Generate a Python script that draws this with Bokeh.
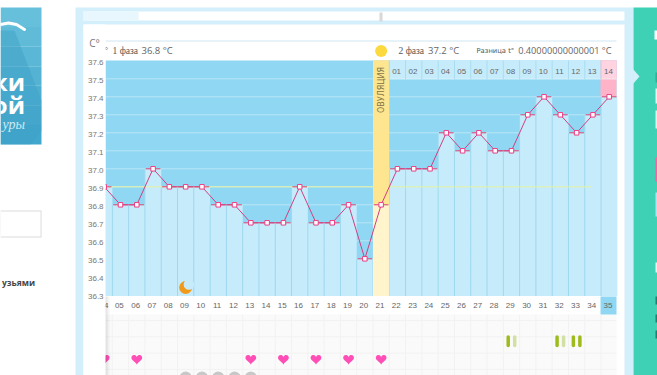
from bokeh.plotting import figure
from bokeh.models import Range1d
from bokeh.core.properties import value
from bokeh.embed import file_html
from bokeh.resources import INLINE
import numpy as np

# ---- data
days = list(range(4, 36))
temps = [36.9, 36.8, 36.8, 37.0, 36.9, 36.9, 36.9, 36.8, 36.8, 36.7, 36.7, 36.7, 36.9, 36.7, 36.7, 36.8,
         36.5, 36.8, 37.0, 37.0, 37.0, 37.2, 37.1, 37.2, 37.1, 37.1, 37.3, 37.4, 37.3, 37.2, 37.3, 37.4]
ytick_labels = ["37.6", "37.5", "37.4", "37.3", "37.2", "37.1", "37.0", "36.9", "36.8", "36.7", "36.6", "36.5", "36.4", "36.3"]
day_labels = ["04", "05", "06", "07", "08", "09", "10", "11", "12", "13", "14", "15", "16", "17", "18", "19", "20",
              "21", "22", "23", "24", "25", "26", "27", "28", "29", "30", "31", "32", "33", "34", "35"]
phase2_labels = ["01", "02", "03", "04", "05", "06", "07", "08", "09", "10", "11", "12", "13", "14"]
heart_days = [4, 6, 13, 15, 17, 19, 21]
grey_days = [9, 10, 11, 12, 13]
moon_day = 9
ovulation_day = 21
mean_temp = 36.9
mucus_days = [29, 29, 32, 32, 33, 33]
mucus_side = [-1, 1, -1, 1, -1, 1]
mucus_color = ["#9dbc1c", "#d2e0a4", "#9dbc1c", "#d2e0a4", "#9dbc1c", "#9dbc1c"]

# ---- page pixel <-> data conversion (used for the chrome only)
PX_DAY = 16.29
PX_DEG = 180.0
W, H = 657, 375


def dx(px):
    return 5 + (px - 120) / PX_DAY


def dy(py):
    return 36.5 + (258.3 - py) / PX_DEG


p = figure(width=W, height=H, output_backend="svg", toolbar_location=None,
           x_range=Range1d(dx(0), dx(W)), y_range=Range1d(dy(H), dy(0)),
           x_axis_location=None, y_axis_location=None, min_border=0,
           outline_line_color=None, background_fill_color="white")
p.grid.visible = False


def box(l, t, r, b, color, level="underlay"):
    p.quad(left=dx(l), right=dx(r), top=dy(t), bottom=dy(b), fill_color=color, line_color=None, level=level)


def label(x, y, txt, size=9, color="#777777", font="Liberation Sans", align="center", style="normal",
          angle=0, level="overlay"):
    p.text(x=[x], y=[y], text=[txt], text_font=value(font), text_font_size=f"{size}px", text_color=color,
           text_align=align, text_baseline="middle", text_font_style=style, angle=angle, level=level)


# ---- page chrome
for i, c in enumerate(["#66bfdb", "#60bbd8", "#5ab7d6", "#54b3d3", "#4eafd1", "#48abce", "#42a7cc"]):
    box(0, 7 + i * 137 / 7, 41, 7 + (i + 1) * 137 / 7, c)
p.patch(x=[dx(0), dx(14), dx(41), dx(41), dx(30), dx(0)], y=[dy(30), dy(30), dy(100), dy(130), dy(144), dy(144)],
        fill_color="#3f9fc6", fill_alpha=0.45, line_color=None, level="underlay")
p.line(x=[dx(0), dx(8), dx(16), dx(24)], y=[dy(24), dy(22.5), dy(24), dy(29)], line_color="white", line_width=3,
       line_cap="round", level="underlay")
label(dx(24.5), dy(81), "ки", 24, "white", "Open Sans", "right", "bold", level="underlay")
label(dx(24.5), dy(104), "ой", 24, "white", "Open Sans", "right", "bold", level="underlay")
label(dx(24.5), dy(124), "уры", 14, "#cdeaf4", "Liberation Serif", "right", "italic", level="underlay")
box(0, 210, 41, 237, "#dcdcdc")
box(0, 211, 40, 236, "white")
label(dx(34.5), dy(281.5), "узьями", 8.5, "#444444", "Open Sans", "right", "bold", level="underlay")

box(75, 7, 633, 375, "#d3effb")
box(83, 11, 624, 20, "#ffffff")
box(83, 11, 138, 20, "#e8f7fd")
box(379, 12, 382, 21, "#d8d8d8")
box(83, 24, 624, 375, "white")
box(633, 7, 657, 375, "#3fd1b6")
p.patch(x=[dx(632), dx(639), dx(632)], y=[dy(68), dy(76), dy(84)], fill_color="#d3effb", line_color=None, level="underlay")
box(654, 30, 657, 39, "white")
box(655, 72, 657, 82, "#2fae98")
box(655, 88, 657, 103, "#e4f8f3")
box(655, 110, 657, 128, "#d8f5ef")
box(655, 157, 657, 181, "#ff5fa8")
box(655, 192, 657, 216, "#aee4f5")
box(655, 262, 657, 272, "#e4f8f3")
box(655, 296, 657, 304, "#1f7f70")
box(655, 314, 657, 322, "#1f7f70")
box(655, 330, 657, 338, "#1f7f70")

# ---- plot background
box(105, 40, 616, 41, "#cfe8f4")
box(105, 60, 616, 295.5, "#8fd7f3")
box(388.5, 60, 616, 79, "#c6ecfb")
box(600, 60, 616, 96.5, "#ffb3c9")
box(600, 60, 616, 79, "#ffd3df")
box(105, 296, 616, 314, "#ffffff")
box(105, 314, 616, 375, "#fafafa")
box(600, 296, 616, 314, "#8fd7f3")

# lower grid
for px in np.arange(111.85, 616, 16.29):
    p.line(x=[dx(px), dx(px)], y=[dy(314), dy(375)], line_color="#f2f2f2", line_width=1, level="underlay")
for py in np.arange(320, 375, 16.29):
    p.line(x=[dx(105), dx(616)], y=[dy(py), dy(py)], line_color="#f2f2f2", line_width=1, level="underlay")

# dotted temperature grid
for t in ytick_labels[1:]:
    p.line(x=[dx(105), dx(616)], y=[float(t), float(t)], line_color="#e4f6fd", line_width=1,
           line_dash="1 1", level="underlay")

# ---- bars
bottoms = [float(ytick_labels[-1]) - 0.007] * len(days)
bar_colors = ["#c6ecfb"] * len(days)
p.vbar(x=days, width=1, top=temps, bottom=bottoms, fill_color=bar_colors, line_color=None)
p.segment(x0=[d - 0.5 for d in days], x1=[d - 0.5 for d in days], y0=bottoms, y1=temps, line_color="#a0d8ee", line_width=1)
for_i = days.index(ovulation_day)
# ovulation column
p.quad(left=[ovulation_day - 0.5], right=[ovulation_day + 0.5], top=[float(ytick_labels[0]) + 0.003],
       bottom=[temps[for_i]], fill_color="#fee590", line_color=None)
p.quad(left=[ovulation_day - 0.5], right=[ovulation_day + 0.5], top=[temps[for_i]],
       bottom=[bottoms[0]], fill_color="#fff4cc", line_color=None)
# separators in the header row of phase 2
for d in days[days.index(22):]:
    p.line(x=[d - 0.5, d - 0.5], y=[dy(60), dy(79)], line_color="#a8dcf0", line_width=1)

# mean line
p.line(x=[dx(105), ovulation_day - 0.5], y=[mean_temp, mean_temp], line_color="#e6f2a2", line_width=1)
p.line(x=[ovulation_day + 0.5, dx(591)], y=[mean_temp, mean_temp], line_color="#e6f2a2", line_width=1)

# top strokes, connecting line, markers
p.segment(x0=[d - 0.45 for d in days], x1=[d + 0.45 for d in days], y0=temps, y1=temps, line_color="#d8406e", line_width=1)
p.line(x=days, y=temps, line_color="#cf4080", line_width=1)
p.scatter(x=days, y=temps, marker="square", size=4.5, fill_color="white", line_color="#ec3f86", line_width=1)

# moon
p.scatter(x=[moon_day], y=[dy(287)], marker="circle", size=13, fill_color="#f09a1c", line_color=None)
p.scatter(x=[moon_day + 0.2], y=[dy(284)], marker="circle", size=10.5, fill_color="#c6ecfb", line_color=None)

# texts that the white column hides in part
label(dx(103.5), dy(305), day_labels[0], 8, "#666666", "Liberation Sans", level="glyph")
label(dx(104), dy(49), "°", 9, "#555555", "Liberation Serif", "left", level="glyph")

# ---- white column with the y labels
box(83, 24, 105, 375, "white", level="overlay")
box(105, 296, 107, 375, "#00000018", level="overlay")
box(107, 296, 109, 375, "#0000000a", level="overlay")

# header band
label(dx(112), dy(50), "1 фаза", 9.5, "#555555", "Liberation Serif", "left")
label(dx(141), dy(50), "36.8 °C", 9.5, "#666666", "Open Sans", "left")
label(dx(398), dy(50), "2 фаза", 9.5, "#555555", "Liberation Serif", "left")
label(dx(427.5), dy(50), "37.2 °C", 9.5, "#666666", "Open Sans", "left")
label(dx(476), dy(50), "Разница t°", 6.8, "#555555", "DejaVu Sans", "left")
label(dx(517.7), dy(50), "0.40000000000001 °C", 9.2, "#666666", "Open Sans", "left")
p.scatter(x=[ovulation_day], y=[dy(50.5)], marker="circle", size=12, fill_color="#fbd93f", line_color=None, level="overlay")
label(dx(380.5), dy(89.5), "ОВУЛЯЦИЯ", 8, "#7d7548", "DejaVu Sans", angle=np.pi / 2)
label(dx(94), dy(42), "C°", 10, "#777777", "Open Sans")

for t in ytick_labels:
    label(dx(87.5), float(t) - 1.3 / PX_DEG, t, 8, "#777777", "Liberation Sans", "left")

for d, s in zip(days[1:], day_labels[1:]):
    label(d - 0.07, dy(305), s, 8, "#666666", "Liberation Sans")
for d, s in zip(days[days.index(22):], phase2_labels):
    label(d - 0.05, dy(71), s, 8, "#666666", "Liberation Sans")

# ---- lower rows
t = np.linspace(0, 2 * np.pi, 40)
hx = 16 * np.sin(t) ** 3 / 16 * 5.4
hy = (13 * np.cos(t) - 5 * np.cos(2 * t) - 2 * np.cos(3 * t) - np.cos(4 * t)) / 16 * 5.4
p.patches(xs=[(d + hx / PX_DAY).tolist() for d in heart_days],
          ys=[(dy(358.5) + hy / PX_DEG).tolist() for d in heart_days],
          fill_color="#ff4fb6", line_color=None)
p.segment(x0=[d + s * 0.2 for d, s in zip(mucus_days, mucus_side)], x1=[d + s * 0.2 for d, s in zip(mucus_days, mucus_side)],
          y0=[dy(336.5)] * len(mucus_days), y1=[dy(345)] * len(mucus_days),
          line_color=mucus_color, line_width=3.5, line_cap="round")
p.scatter(x=grey_days, y=[dy(377)] * len(grey_days), marker="circle", size=12, fill_color="#c8c8c8", line_color=None)

open("out.html", "w").write(file_html(p, INLINE))
